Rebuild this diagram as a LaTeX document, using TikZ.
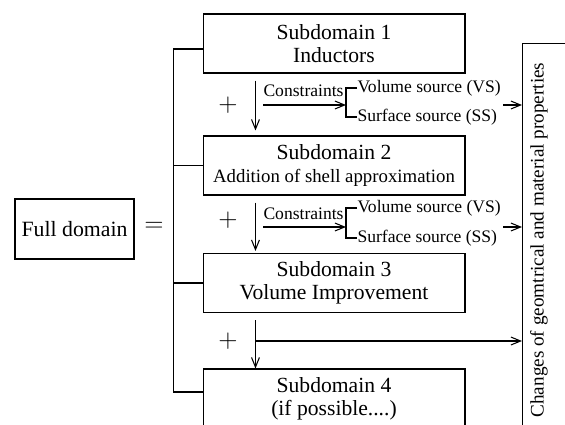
\documentclass[tikz,border=0pt]{standalone}
\usepackage{fontspec}
\setmainfont{Liberation Serif}
\usetikzlibrary{arrows.meta}

\begin{document}
\begin{tikzpicture}[x=0.02cm,y=-0.02cm,line width=0.6pt,
        sub/.style={draw, minimum width=5.24cm, minimum height=1.18cm,
                        inner sep=0pt, align=center,
                        font=\fontsize{12.3}{13}\selectfont},
        src/.style={anchor=west, inner sep=0pt,
                        font=\fontsize{10}{12}\selectfont},
        sign/.style={inner sep=0pt, font=\fontsize{13.5}{14}\selectfont},
        flow/.style={-{Straight Barb[length=5.5pt,width=4.5pt]}}]
    \useasboundingbox (0,0) rectangle (565,424);
    \clip (0,0) rectangle (565,424);
    % subdomains
    \node[sub] (sub1) at (334,43.5) {Subdomain 1\\Inductors};
    \node[sub] (sub2) at (334,165.5) {Subdomain 2\\
        {\fontsize{10.7}{13}\selectfont Addition of shell approximation}};
    \node[sub] (sub3) at (334,283) {Subdomain 3\\Volume Improvement};
    \node[sub] (sub4) at (334,398.5) {Subdomain 4\\(if possible....)};
    \node[draw, minimum width=2.38cm, minimum height=1.2cm, inner sep=0pt,
        font=\fontsize{12.4}{14}\selectfont] (full) at (74.5,229) {Full domain};
    \node[sign] (eq) at (154,227) {$=$};
    \node[draw, anchor=north west, minimum width=1.2cm,
        minimum height=8cm] (props) at (522,43) {};
    \node[rotate=90, inner sep=0pt, font=\fontsize{10.9}{12}\selectfont]
        (proptext) at (539,240) {Changes of geomtrical and material properties};
    % left bracket
    \draw ([yshift=-0.11cm]sub1.west) -- ++(-29,0) |- ([yshift=0.13cm]sub4.west);
    \draw (sub2.west) -- ++(-29,0);
    \draw (sub3.west) -- ++(-29,0);
    % plus signs
    \node[sign] (plus1) at (228,105) {$+$};
    \node[sign] (plus2) at (228,220) {$+$};
    \node[sign] (plus3) at (228,341) {$+$};
    % down arrows
    \draw[flow] ([xshift=1.06cm,yshift=-0.14cm]sub1.south west)
        -- ([xshift=1.06cm,yshift=0.1cm]sub2.north west);
    \draw[flow] ([xshift=1.06cm,yshift=-0.14cm]sub2.south west)
        -- ([xshift=1.06cm,yshift=0.04cm]sub3.north west);
    \draw[flow] ([xshift=1.06cm,yshift=-0.14cm]sub3.south west) coordinate (d3)
        -- (sub4.north west -| d3);
    % constraints
    \node[src, anchor=south west] (cons1) at (263,97) {Constraints};
    \node[src] (vs1) at (357,88) {Volume source (VS)};
    \node[src] (ss1) at (357,117) {Surface source (SS)};
    \draw (vs1.west) -- ++(-11,0) coordinate (br1) |- (ss1.west);
    \draw[flow] ([yshift=-0.16cm]cons1.south west)
        -- ([yshift=-0.16cm]cons1.south west -| br1) coordinate (in1);
    \node[src, anchor=south west] (cons2) at (263,220) {Constraints};
    \node[src] (vs2) at (357,208) {Volume source (VS)};
    \node[src] (ss2) at (357,238) {Surface source (SS)};
    \draw (vs2.west) -- ++(-11,0) coordinate (br2) |- (ss2.west);
    \draw[flow] ([yshift=-0.14cm]cons2.south west)
        -- ([yshift=-0.14cm]cons2.south west -| br2) coordinate (in2);
    % into properties
    \draw[flow] ([xshift=-0.38cm]props.west |- in1) -- (props.west |- in1);
    \draw[flow] ([xshift=-0.38cm]props.west |- in2) -- (props.west |- in2);
    \draw[flow] (d3 |- plus3) -- (props.west |- plus3);
\end{tikzpicture}
\end{document}
